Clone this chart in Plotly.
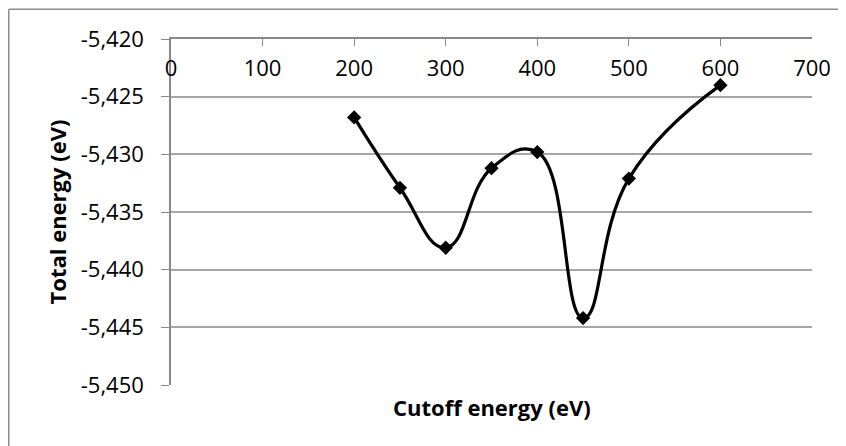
import plotly.graph_objects as go

cutoff = [200, 250, 300, 350, 400, 450, 500, 600]
energy = [-5426.8, -5432.9, -5438.1, -5431.2, -5429.8, -5444.2, -5432.1, -5424.0]
x_ticks = [0, 100, 200, 300, 400, 500, 600, 700]
y_ticks = [-5420, -5425, -5430, -5435, -5440, -5445, -5450]
y_labels = ["-5,420", "-5,425", "-5,430", "-5,435", "-5,440", "-5,445", "-5,450"]

FONT = "Open Sans"
OFF = 8  # page body margin
W, H = 846 - OFF, 446 - OFF
L, R, T, B = 171 - OFF, 812 - OFF, 39 - OFF, 385 - OFF

def px_x(p):
    return (p - L) / (R - L)

def px_y(p):
    return (B - p) / (B - T)

fig = go.Figure()
fig.add_trace(go.Scatter(
    x=cutoff, y=energy, mode="lines+markers",
    line=dict(color="black", width=3.2, shape="spline", smoothing=1.3),
    marker=dict(symbol="diamond", size=11, color="black"),
    showlegend=False,
))

border = dict(color="#8c8c8c", width=1.5)
fig.update_layout(
    width=W, height=H,
    margin=dict(l=L, r=W - R, t=T, b=H - B, pad=0, autoexpand=False),
    paper_bgcolor="white", plot_bgcolor="white",
    font=dict(family=FONT, size=22, color="black"),
    xaxis=dict(
        range=[0, 700], side="top", tickvals=x_ticks,
        ticklabelposition="inside", ticklabeloverflow="allow", ticklabelstandoff=16,
        ticks="inside", ticklen=7, tickcolor="#888888",
        showline=True, linecolor="#888888", linewidth=1.5,
        showgrid=False, zeroline=False, mirror=False, automargin=False,
        tickfont=dict(family=FONT, size=22, color="black"),
    ),
    yaxis=dict(
        range=[-5450, -5420], tickvals=y_ticks, ticktext=y_labels,
        ticks="outside", ticklen=8, tickcolor="#888888",
        ticklabeloverflow="allow", ticklabelstandoff=13, automargin=False,
        showline=True, linecolor="#888888", linewidth=1.5,
        showgrid=True, gridcolor="#a6a6a6", gridwidth=1.5, zeroline=False,
        tickfont=dict(family=FONT, size=22, color="black"),
        title=dict(text="<b>Total energy (eV)</b>", standoff=8,
                   font=dict(family=FONT, size=22, color="black")),
    ),
    shapes=[
        dict(type="line", xref="paper", yref="paper", layer="below",
             x0=px_x(0.75), x1=px_x(W), y0=px_y(1.25), y1=px_y(1.25), line=border),
        dict(type="line", xref="paper", yref="paper", layer="below",
             x0=px_x(0.75), x1=px_x(0.75), y0=px_y(1.25), y1=px_y(H), line=border),
    ],
    annotations=[dict(
        text="<b>Cutoff energy (eV)</b>", xref="paper", yref="paper",
        x=0.5, y=px_y(407 - OFF), xanchor="center", yanchor="middle",
        showarrow=False, font=dict(family=FONT, size=22, color="black"),
    )],
)

fig.write_html("out.html")
